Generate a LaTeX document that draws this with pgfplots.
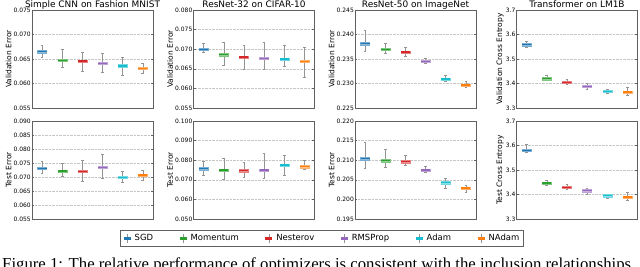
\documentclass[border=0pt]{standalone}
\usepackage{pgfplots}
\pgfplotsset{compat=1.18}
\usepackage{pgfplotstable}
\usepackage{fontspec}
\setmainfont{DejaVu Sans}
\newfontfamily\serif{Liberation Serif}
\definecolor{cSGD}{HTML}{1F77B4}
\definecolor{cMom}{HTML}{2CA02C}
\definecolor{cNes}{HTML}{D62728}
\definecolor{cRMS}{HTML}{9467BD}
\definecolor{cAdam}{HTML}{17BECF}
\definecolor{cNAdam}{HTML}{FF7F0E}

% columns: lower whisker, lower quartile, median, upper quartile, upper whisker
\pgfplotstableread{
lw lq med uq uw
0.0654 0.06625 0.0665 0.06675 0.0679
0.0633 0.06445 0.0647 0.06495 0.0669
0.0626 0.06435 0.0646 0.06485 0.0664
0.0623 0.06385 0.0641 0.06435 0.0662
0.0616 0.06335 0.0636 0.06385 0.0653
0.0620 0.06285 0.0631 0.06335 0.0642
}\tA
\pgfplotstableread{
lw lq med uq uw
0.0692 0.0697 0.0700 0.0703 0.0715
0.0659 0.0683 0.0686 0.0689 0.0718
0.0650 0.0677 0.0680 0.0683 0.0710
0.0648 0.0674 0.0677 0.0680 0.0718
0.0657 0.0672 0.0675 0.0678 0.0710
0.0629 0.0666 0.0669 0.0672 0.0704
}\tB
\pgfplotstableread{
lw lq med uq uw
0.2366 0.23785 0.2381 0.23835 0.2408
0.2361 0.23675 0.2370 0.23725 0.2382
0.2355 0.23615 0.2364 0.23665 0.2373
0.2341 0.23425 0.2345 0.23475 0.2351
0.2305 0.23065 0.2309 0.23115 0.2316
0.2292 0.22945 0.2297 0.22995 0.2305
}\tC
\pgfplotstableread{
lw lq med uq uw
3.546 3.553 3.558 3.563 3.574
3.412 3.415 3.420 3.425 3.432
3.396 3.400 3.405 3.410 3.416
3.377 3.384 3.389 3.394 3.401
3.359 3.363 3.368 3.373 3.377
3.351 3.360 3.365 3.370 3.385
}\tD
\pgfplotstableread{
lw lq med uq uw
0.0712 0.0727 0.0731 0.0735 0.0755
0.0702 0.0717 0.0721 0.0725 0.0749
0.0686 0.0716 0.0720 0.0724 0.0761
0.0695 0.0731 0.0735 0.0739 0.0782
0.0682 0.0695 0.0699 0.0703 0.0719
0.0688 0.0703 0.0707 0.0711 0.0724
}\tE
\pgfplotstableread{
lw lq med uq uw
0.0723 0.0750 0.0756 0.0762 0.0795
0.0705 0.0744 0.0750 0.0756 0.0810
0.0713 0.0741 0.0747 0.0753 0.0791
0.0710 0.0744 0.0750 0.0756 0.0838
0.0723 0.0770 0.0776 0.0782 0.0826
0.0752 0.0761 0.0767 0.0773 0.0798
}\tF
\pgfplotstableread{
lw lq med uq uw
0.2080 0.2101 0.2104 0.2107 0.2147
0.2083 0.2096 0.2099 0.2102 0.2127
0.2086 0.2093 0.2096 0.2099 0.2112
0.2069 0.2072 0.2075 0.2078 0.2085
0.2028 0.2040 0.2043 0.2046 0.2053
0.2017 0.2026 0.2029 0.2032 0.2037
}\tG
\pgfplotstableread{
lw lq med uq uw
3.571 3.576 3.581 3.586 3.604
3.437 3.442 3.447 3.452 3.459
3.421 3.425 3.430 3.435 3.442
3.401 3.410 3.415 3.420 3.427
3.386 3.390 3.395 3.400 3.402
3.376 3.385 3.390 3.395 3.411
}\tH

\newcommand{\bx}[4]{%
  \pgfplotstablegetelem{#2}{lw}\of#1\edef\vlw{\pgfplotsretval}%
  \pgfplotstablegetelem{#2}{lq}\of#1\edef\vlq{\pgfplotsretval}%
  \pgfplotstablegetelem{#2}{med}\of#1\edef\vmed{\pgfplotsretval}%
  \pgfplotstablegetelem{#2}{uq}\of#1\edef\vuq{\pgfplotsretval}%
  \pgfplotstablegetelem{#2}{uw}\of#1\edef\vuw{\pgfplotsretval}%
  \pgfmathsetmacro\xbl{#3-0.225}\pgfmathsetmacro\xbr{#3+0.225}%
  \pgfmathsetmacro\xcl{#3-0.07}\pgfmathsetmacro\xcr{#3+0.07}%
  \edef\tmp{%
    \noexpand\addplot[draw=gray!85, line width=0.5pt] coordinates {(#3,\vlw) (#3,\vlq)};
    \noexpand\addplot[draw=gray!85, line width=0.5pt] coordinates {(#3,\vuq) (#3,\vuw)};
    \noexpand\addplot[draw=gray!85, line width=0.5pt] coordinates {(\xcl,\vlw) (\xcr,\vlw)};
    \noexpand\addplot[draw=gray!85, line width=0.5pt] coordinates {(\xcl,\vuw) (\xcr,\vuw)};
    \noexpand\addplot[draw=#4!60!white, fill=#4!50!white, line width=0.4pt]
       coordinates {(\xbl,\vlq) (\xbr,\vlq) (\xbr,\vuq) (\xbl,\vuq)} -- cycle;
    \noexpand\addplot[draw=#4, line width=1.3pt] coordinates {(\xbl,\vmed) (\xbr,\vmed)};
  }\tmp}
\newcommand{\allbx}[1]{%
  \bx{#1}{0}{1}{cSGD}\bx{#1}{1}{2}{cMom}\bx{#1}{2}{3}{cNes}%
  \bx{#1}{3}{4}{cRMS}\bx{#1}{4}{5}{cAdam}\bx{#1}{5}{6}{cNAdam}}

\pgfplotsset{myax/.style={scale only axis, width=121bp, height=98bp, anchor=south west,
  xmin=0.5, xmax=6.5, xtick=\empty, ymajorgrids,
  grid style={densely dotted, gray!45, line width=0.4pt},
  axis line style={gray!75!black, line width=0.6pt},
  tick style={gray!75!black, line width=0.4pt}, major tick length=2bp, tick align=inside,
  scaled y ticks=false,
  y tick label style={font=\fontsize{6}{7}\selectfont, inner sep=1pt},
  /pgf/number format/assume math mode=true,
  /pgf/number format/fixed, /pgf/number format/fixed zerofill, /pgf/number format/precision=3,
  ylabel style={font=\fontsize{7.5}{9}\selectfont, inner sep=1pt},
  title style={font=\fontsize{9}{11}\selectfont, at={(0.5,1)}, anchor=base, yshift=-3.2bp, inner sep=0pt}}}

\begin{document}
\begin{tikzpicture}
% top row
\begin{axis}[myax, at={(32bp,159bp)}, ymin=0.055, ymax=0.075, ytick={0.055,0.060,0.065,0.070,0.075},
  title={Simple CNN on Fashion MNIST}, ylabel={Validation Error}]
\allbx{\tA}
\end{axis}
\begin{axis}[myax, at={(193.5bp,159bp)}, ymin=0.055, ymax=0.080, ytick={0.055,0.060,0.065,0.070,0.075,0.080},
  title={ResNet-32 on CIFAR-10}, ylabel={Validation Error}]
\allbx{\tB}
\end{axis}
\begin{axis}[myax, at={(355bp,159bp)}, ymin=0.225, ymax=0.245, ytick={0.225,0.230,0.235,0.240,0.245},
  title={ResNet-50 on ImageNet}, ylabel={Validation Error}]
\allbx{\tC}
\end{axis}
\begin{axis}[myax, at={(516.5bp,159bp)}, ymin=3.3, ymax=3.7, ytick={3.3,3.4,3.5,3.6,3.7},
  /pgf/number format/precision=1,
  title={Transformer on LM1B}, ylabel={Validation Cross Entropy}]
\allbx{\tD}
\end{axis}
% bottom row
\begin{axis}[myax, at={(32bp,48bp)}, ymin=0.055, ymax=0.090, ytick={0.055,0.060,0.065,0.070,0.075,0.080,0.085,0.090},
  ylabel={Test Error}]
\allbx{\tE}
\end{axis}
\begin{axis}[myax, at={(193.5bp,48bp)}, ymin=0.050, ymax=0.100, ytick={0.050,0.060,0.070,0.080,0.090,0.100},
  ylabel={Test Error}]
\allbx{\tF}
\end{axis}
\begin{axis}[myax, at={(355bp,48bp)}, ymin=0.195, ymax=0.220, ytick={0.195,0.200,0.205,0.210,0.215,0.220},
  ylabel={Test Error}]
\allbx{\tG}
\end{axis}
\begin{axis}[myax, at={(516.5bp,48bp)}, ymin=3.3, ymax=3.7, ytick={3.3,3.4,3.5,3.6,3.7},
  /pgf/number format/precision=1,
  ylabel={Test Cross Entropy}]
\allbx{\tH}
\end{axis}
% legend
\begin{axis}[hide axis, scale only axis, width=10bp, height=10bp, xmin=0, xmax=1, ymin=0, ymax=1,
  at={(322bp,28.5bp)}, anchor=center, legend columns=6, legend cell align=left,
  legend style={at={(0.5,0.5)}, anchor=center, draw=gray!75!black, line width=0.6pt,
    font=\fontsize{8.5}{10}\selectfont, inner xsep=2pt, inner ysep=2pt,
    /tikz/every odd column/.append style={column sep=1bp},
    /tikz/every even column/.append style={column sep=23.5bp}}]
\addlegendimage{legend image code/.code={\draw[gray!85,line width=0.5pt] (5bp,-4bp)--(5bp,4bp); \draw[cSGD,line width=2bp] (1.5bp,0)--(8.5bp,0);}}
\addlegendentry{SGD}
\addlegendimage{legend image code/.code={\draw[gray!85,line width=0.5pt] (5bp,-4bp)--(5bp,4bp); \draw[cMom,line width=2bp] (1.5bp,0)--(8.5bp,0);}}
\addlegendentry{Momentum}
\addlegendimage{legend image code/.code={\draw[gray!85,line width=0.5pt] (5bp,-4bp)--(5bp,4bp); \draw[cNes,line width=2bp] (1.5bp,0)--(8.5bp,0);}}
\addlegendentry{Nesterov}
\addlegendimage{legend image code/.code={\draw[gray!85,line width=0.5pt] (5bp,-4bp)--(5bp,4bp); \draw[cRMS,line width=2bp] (1.5bp,0)--(8.5bp,0);}}
\addlegendentry{RMSProp}
\addlegendimage{legend image code/.code={\draw[gray!85,line width=0.5pt] (5bp,-4bp)--(5bp,4bp); \draw[cAdam,line width=2bp] (1.5bp,0)--(8.5bp,0);}}
\addlegendentry{Adam}
\addlegendimage{legend image code/.code={\draw[gray!85,line width=0.5pt] (5bp,-4bp)--(5bp,4bp); \draw[cNAdam,line width=2bp] (1.5bp,0)--(8.5bp,0);}}
\addlegendentry{NAdam}
\end{axis}
\node[anchor=base west, inner sep=0pt, font=\serif\fontsize{16.8}{19}\selectfont] at (2bp,-2bp)
  {Figure 1: The relative performance of optimizers is consistent with the inclusion relationships};
\pgfresetboundingbox
\useasboundingbox (0bp,0bp) rectangle (640bp,267bp);
\end{tikzpicture}
\end{document}
